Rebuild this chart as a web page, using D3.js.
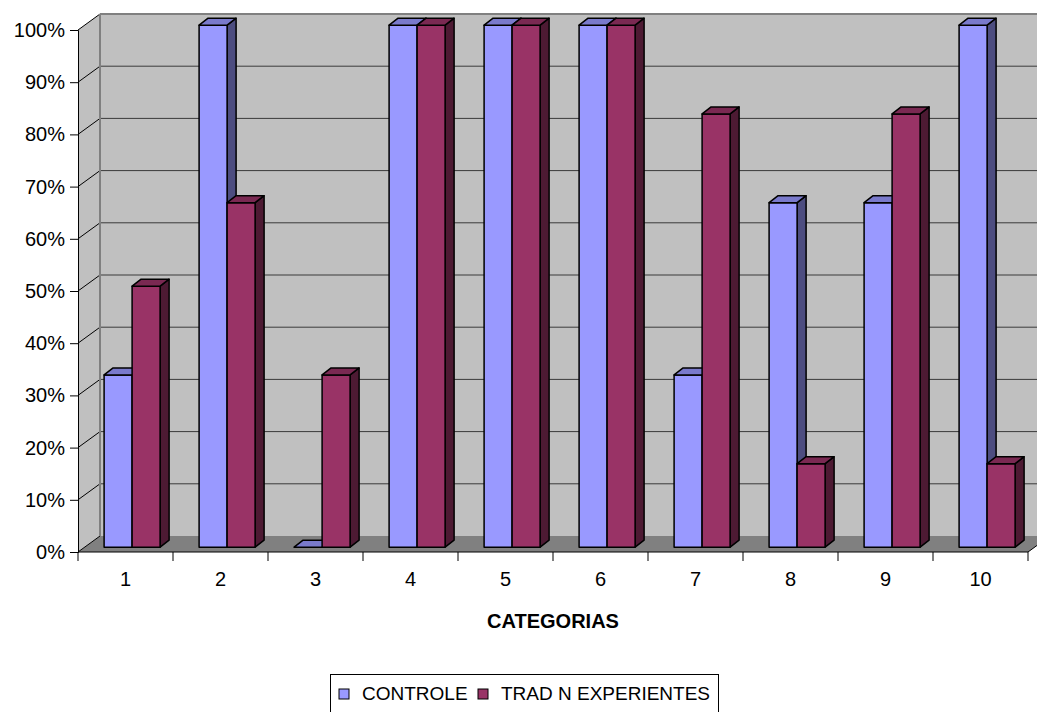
<!DOCTYPE html>
<html>
<head>
<meta charset="utf-8">
<script src="https://cdn.jsdelivr.net/npm/d3@7/dist/d3.min.js"></script>
<style>
  html, body { margin: 0; padding: 0; background: #fff; }
  svg { display: block; font-family: "Liberation Sans", Arial, sans-serif; }
</style>
</head>
<body>
<svg id="chart" width="1037" height="712"></svg>
<script>
// Data
const categories = ["1", "2", "3", "4", "5", "6", "7", "8", "9", "10"];
const seriesNames = ["CONTROLE", "TRAD N EXPERIENTES"];
const controle = [0.33, 1.00, 0.00, 1.00, 1.00, 1.00, 0.33, 0.66, 0.66, 1.00];
const tradNExperientes = [0.50, 0.66, 0.33, 1.00, 1.00, 1.00, 0.83, 0.16, 0.83, 0.16];
const yTicks = [0, 0.1, 0.2, 0.3, 0.4, 0.5, 0.6, 0.7, 0.8, 0.9, 1.0];

const series = [controle, tradNExperientes];
const faceColors = [
  { front: "#9999FF", side: "#4D4D80", top: "#7A7ACC" },
  { front: "#993366", side: "#4D1A33", top: "#7A2952" }
];

const svg = d3.select("#chart");

// Plot geometry (front plane) and oblique depth of the walls
const plotLeft = 78, plotRight = 1028, plotBottom = 552, plotTop = 30;
const wallDx = 22, wallDy = -16;

const x = d3.scaleBand().domain(categories).range([plotLeft, plotRight]).paddingInner(0).paddingOuter(0);
const y = d3.scaleLinear().domain([0, 1]).range([plotBottom, plotTop]);

// Back wall and left side wall
const wallTop = y(1) + wallDy;
svg.append("rect")
  .attr("x", plotLeft + wallDx).attr("y", wallTop)
  .attr("width", 1100 - plotLeft - wallDx).attr("height", y(0) + wallDy - wallTop)
  .attr("fill", "#C0C0C0");
svg.append("path")
  .attr("d", `M${plotLeft},${y(0)} L${plotLeft},${y(1)} L${plotLeft + wallDx},${y(1) + wallDy} L${plotLeft + wallDx},${y(0) + wallDy} Z`)
  .attr("fill", "#C0C0C0");

// Floor
svg.append("path")
  .attr("d", `M${plotLeft},${y(0)} L${plotRight},${y(0)} L${plotRight + wallDx},${y(0) + wallDy} L${plotLeft + wallDx},${y(0) + wallDy} Z`)
  .attr("fill", "#808080");

// Gridlines on back wall and side wall
const grid = svg.append("g");
yTicks.forEach(t => {
  if (t > 0) {
    grid.append("line")
      .attr("x1", plotLeft + wallDx).attr("x2", 1100)
      .attr("y1", y(t) + wallDy).attr("y2", y(t) + wallDy)
      .attr("stroke", t === 1 ? "#808080" : "#3a3a3a")
      .attr("stroke-width", t === 1 ? 2 : 1);
  }
  grid.append("line")
    .attr("x1", plotLeft).attr("y1", y(t))
    .attr("x2", plotLeft + wallDx).attr("y2", y(t) + wallDy)
    .attr("stroke", "#000").attr("stroke-width", 1);
});
// Wall corner edge
grid.append("line")
  .attr("x1", plotLeft + wallDx).attr("x2", plotLeft + wallDx)
  .attr("y1", y(1) + wallDy).attr("y2", y(0) + wallDy)
  .attr("stroke", "#808080").attr("stroke-width", 2);

// Bars (3D columns placed slightly behind the front plane)
const depthFrac = 0.3;
const shiftX = wallDx * depthFrac, shiftY = wallDy * depthFrac;
const barW = 28, barDx = 9, barDy = -7;
const bars = svg.append("g")
  .attr("stroke", "#000").attr("stroke-width", 1.5).attr("stroke-linejoin", "round");

categories.forEach((c, i) => {
  const cx = x(c) + x.bandwidth() / 2;
  series.forEach((vals, s) => {
    const v = vals[i];
    const x0 = cx - barW + s * barW + shiftX;
    const x1 = x0 + barW;
    const yb = y(0) + shiftY;
    const yt = y(v) + shiftY;
    const col = faceColors[s];
    if (v > 0) {
      bars.append("path")
        .attr("d", `M${x1},${yb} L${x1 + barDx},${yb + barDy} L${x1 + barDx},${yt + barDy} L${x1},${yt} Z`)
        .attr("fill", col.side);
      bars.append("rect")
        .attr("x", x0).attr("y", yt)
        .attr("width", barW).attr("height", yb - yt)
        .attr("fill", col.front);
    }
    bars.append("path")
      .attr("d", `M${x0},${yt} L${x1},${yt} L${x1 + barDx},${yt + barDy} L${x0 + barDx},${yt + barDy} Z`)
      .attr("fill", col.top);
  });
});

// Y axis
const yAxis = d3.axisLeft(y)
  .tickValues(yTicks)
  .tickFormat(d3.format(".0%"))
  .tickSize(8)
  .tickPadding(5);
const gy = svg.append("g").attr("transform", `translate(${plotLeft},0)`).call(yAxis);
gy.selectAll("text").attr("font-size", 20).attr("fill", "#000")
  .attr("font-family", "'Liberation Sans', Arial, sans-serif");
gy.selectAll("line, path").attr("stroke", "#000");

// X axis: labels at band centres, ticks at band boundaries
const xAxis = d3.axisBottom(x).tickSize(0).tickPadding(20);
const gx = svg.append("g").attr("transform", `translate(0,${plotBottom})`).call(xAxis);
gx.select(".domain").remove();
gx.selectAll("text").attr("font-size", 20).attr("fill", "#000")
  .attr("font-family", "'Liberation Sans', Arial, sans-serif");
svg.append("line")
  .attr("x1", plotLeft).attr("x2", plotRight).attr("y1", plotBottom).attr("y2", plotBottom)
  .attr("stroke", "#000");
const boundaries = categories.map(c => x(c)).concat([plotRight]);
svg.append("g").selectAll("line").data(boundaries).join("line")
  .attr("x1", d => d).attr("x2", d => d)
  .attr("y1", plotBottom).attr("y2", plotBottom + 9)
  .attr("stroke", "#000");
// Floor right edge
svg.append("line")
  .attr("x1", plotRight).attr("y1", plotBottom)
  .attr("x2", plotRight + wallDx).attr("y2", plotBottom + wallDy)
  .attr("stroke", "#000");

// Axis title
svg.append("text")
  .attr("x", 553).attr("y", 628)
  .attr("text-anchor", "middle")
  .attr("font-size", 20).attr("font-weight", "bold")
  .text("CATEGORIAS");

// Legend
const legend = svg.append("g");
legend.append("rect")
  .attr("x", 330.5).attr("y", 674.5).attr("width", 388).attr("height", 60)
  .attr("fill", "#fff").attr("stroke", "#000");
const legendItems = [
  { name: seriesNames[0], color: faceColors[0].front, x: 339 },
  { name: seriesNames[1], color: faceColors[1].front, x: 478 }
];
legendItems.forEach(d => {
  legend.append("rect")
    .attr("x", d.x).attr("y", 689).attr("width", 10).attr("height", 10)
    .attr("fill", d.color).attr("stroke", "#000");
  legend.append("text")
    .attr("x", d.x + 23).attr("y", 700)
    .attr("font-size", 19)
    .text(d.name);
});
</script>
</body>
</html>
